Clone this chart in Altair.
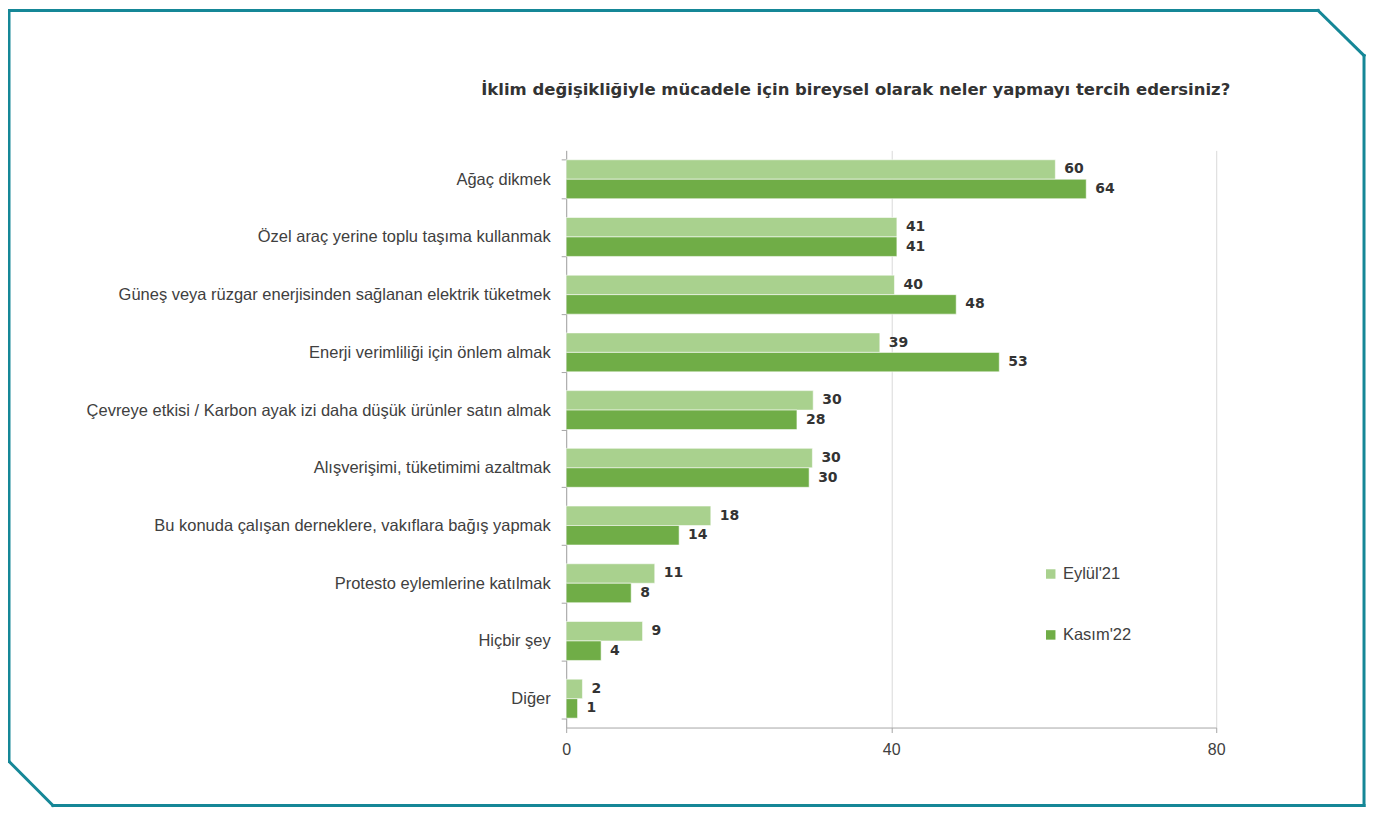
import altair as alt
import pandas as pd

categories = [
    "Ağaç dikmek",
    "Özel araç yerine toplu taşıma kullanmak",
    "Güneş veya rüzgar enerjisinden sağlanan elektrik tüketmek",
    "Enerji verimliliği için önlem almak",
    "Çevreye etkisi / Karbon ayak izi daha düşük ürünler satın almak",
    "Alışverişimi, tüketimimi azaltmak",
    "Bu konuda çalışan derneklere, vakıflara bağış yapmak",
    "Protesto eylemlerine katılmak",
    "Hiçbir şey",
    "Diğer",
]
series = ["Eylül'21", "Kasım'22"]
eylul = [60.2, 40.7, 40.4, 38.6, 30.4, 30.3, 17.8, 10.9, 9.4, 2.0]
kasim = [64.0, 40.7, 48.0, 53.3, 28.4, 29.9, 13.9, 8.0, 4.3, 1.4]
x_ticks = [0, 40, 80]
title_text = "İklim değişikliğiyle mücadele için bireysel olarak neler yapmayı tercih edersiniz?"

rows = []
for c, a, b in zip(categories, eylul, kasim):
    rows.append({"cat": c, "series": series[0], "value": a})
    rows.append({"cat": c, "series": series[1], "value": b})
df = pd.DataFrame(rows)

W, H = 651, 578
FONT = "Liberation Sans"
TEAL = "#158797"
TXT = "#404040"

y_enc = alt.Y(
    "cat:N",
    sort=categories,
    title=None,
    scale=alt.Scale(paddingInner=0.325, paddingOuter=0.1625),
    axis=alt.Axis(
        labelFontSize=16.5,
        labelFont=FONT,
        labelColor=TXT,
        labelPadding=11,
        labelLimit=700,
        tickSize=5,
        tickBand="extent",
        tickColor="#a6a6a6",
        domainColor="#a6a6a6",
        grid=False,
    ),
)
x_enc = alt.X(
    "value:Q",
    title=None,
    scale=alt.Scale(domain=[0, 80], nice=False),
    axis=alt.Axis(
        values=x_ticks,
        labelFontSize=16,
        labelFont=FONT,
        labelColor=TXT,
        labelPadding=9,
        labelFlush=False,
        tickSize=5,
        tickColor="#a6a6a6",
        domainColor="#a6a6a6",
        gridColor="#d9d9d9",
        grid=True,
    ),
)
yoff = alt.YOffset("series:N", sort=series, scale=alt.Scale(paddingInner=0, paddingOuter=0))

base = alt.Chart(df)

bars = base.mark_bar(stroke="#ffffff", strokeWidth=0.8, strokeOpacity=0.7).encode(
    y=y_enc,
    x=x_enc,
    yOffset=yoff,
    color=alt.Color(
        "series:N",
        sort=series,
        scale=alt.Scale(domain=series, range=["#a9d18e", "#70ad47"]),
        legend=alt.Legend(
            title=None,
            orient="none",
            legendX=477,
            legendY=416,
            symbolType="square",
            symbolSize=90,
            symbolStrokeWidth=0,
            labelFontSize=16.5,
            labelFont=FONT,
            labelColor=TXT,
            labelOffset=4,
            rowPadding=44,
            padding=0,
        ),
    ),
)

labels = base.mark_text(
    align="left", baseline="middle", dx=9, font="DejaVu Sans", fontWeight="bold",
    fontSize=14, color="#333333",
).encode(
    y=alt.Y("cat:N", sort=categories),
    x=alt.X("value:Q"),
    yOffset=yoff,
    text=alt.Text("value:Q", format=".0f"),
)

title = alt.Chart(pd.DataFrame({"t": [title_text]})).mark_text(
    align="right", baseline="alphabetic", font="DejaVu Sans", fontWeight="bold",
    fontSize=16.5, color="#333333",
).encode(x=alt.value(665), y=alt.value(-55), text="t:N")


def seg(x1, y1, x2, y2):
    return alt.Chart(pd.DataFrame({"k": [0]})).mark_rule(
        color=TEAL, strokeWidth=3, strokeCap="square"
    ).encode(x=alt.value(x1), y=alt.value(y1), x2=alt.value(x2), y2=alt.value(y2))


L, T, R, B = -558, -140, 799, 656
frame = [
    seg(L, T, 753, T),
    seg(753, T, R, -95),
    seg(R, -95, R, B),
    seg(R, B, -514, B),
    seg(-514, B, L, 612),
    seg(L, 612, L, T),
]

chart = alt.layer(bars, labels, title, *frame).properties(
    width=W,
    height=H,
    autosize=alt.AutoSizeParams(type="none"),
    padding={"left": 559, "top": 142, "right": 160, "bottom": 80},
).configure_view(stroke=None)

chart.save("out.html", embed_options={"renderer": "svg", "actions": False})
